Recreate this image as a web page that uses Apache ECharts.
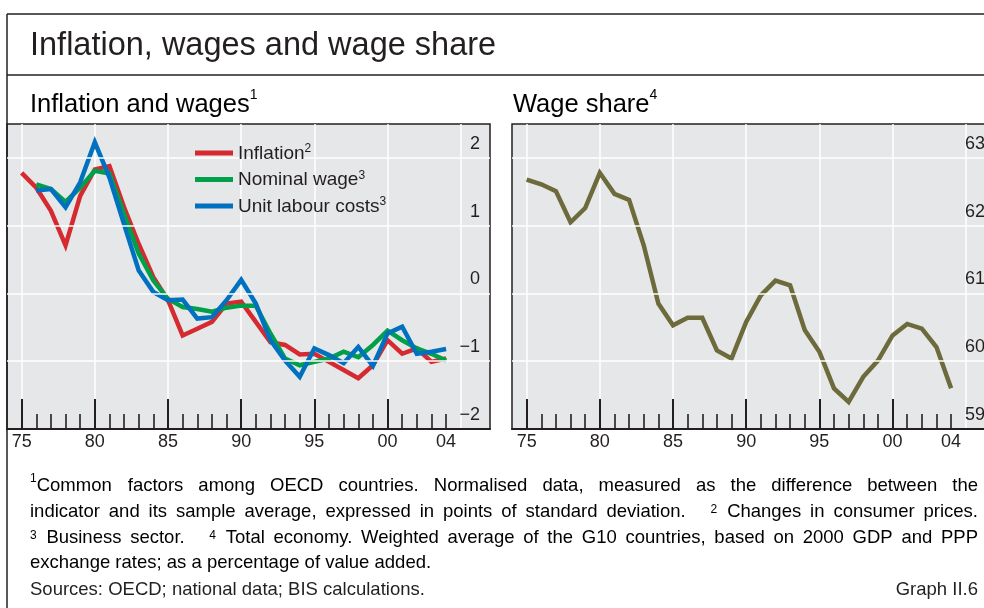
<!DOCTYPE html>
<html>
<head>
<meta charset="utf-8">
<title>Inflation, wages and wage share</title>
<script src="https://cdn.jsdelivr.net/npm/echarts@6/dist/echarts.min.js"></script>
<style>
  html, body { margin: 0; padding: 0; background: #fff; }
  #chart { width: 984px; height: 608px; }
</style>
</head>
<body>
<div id="chart"></div>
<script>
const years = [1975, 1976, 1977, 1978, 1979, 1980, 1981, 1982, 1983, 1984,
  1985, 1986, 1987, 1988, 1989, 1990, 1991, 1992, 1993, 1994,
  1995, 1996, 1997, 1998, 1999, 2000, 2001, 2002, 2003, 2004];

const inflation = [1.78, 1.56, 1.22, 0.71, 1.44, 1.83, 1.88, 1.27, 0.73, 0.24,
  -0.10, -0.62, -0.52, -0.42, -0.15, -0.12, -0.42, -0.72, -0.76, -0.90,
  -0.89, -1.01, -1.13, -1.25, -1.06, -0.69, -0.89, -0.81, -1.01, -0.96];
const nominalWage = [null, 1.61, 1.54, 1.35, 1.56, 1.81, 1.77, 1.17, 0.59, 0.19,
  -0.08, -0.20, -0.23, -0.27, -0.21, -0.18, -0.18, -0.59, -0.96, -1.06,
  -1.01, -0.96, -0.86, -0.94, -0.76, -0.55, -0.69, -0.81, -0.89, -0.99];
const unitLabourCosts = [null, 1.52, 1.54, 1.27, 1.64, 2.23, 1.71, 1.02, 0.34, 0.02,
  -0.10, -0.09, -0.37, -0.35, -0.10, 0.20, -0.15, -0.69, -0.99, -1.23,
  -0.81, -0.91, -1.03, -0.79, -1.07, -0.59, -0.49, -0.89, -0.86, -0.82];
const wageShare = [62.68, 62.61, 62.51, 62.05, 62.26, 62.78, 62.47, 62.38, 61.71, 60.85,
  60.53, 60.64, 60.64, 60.16, 60.04, 60.58, 60.97, 61.19, 61.12, 60.46,
  60.14, 59.60, 59.40, 59.77, 60.01, 60.38, 60.55, 60.48, 60.21, 59.60];

// axis ticks and labels
const xLabelYears = [1975, 1980, 1985, 1990, 1995, 2000, 2004];
const majorTickYears = [1975, 1980, 1985, 1990, 1995, 2000];
const minorTickYears = [1976, 1977, 1978, 1979, 1981, 1982, 1983, 1984, 1986, 1987,
  1988, 1989, 1991, 1992, 1993, 1994, 1996, 1997, 1998, 1999, 2001, 2002, 2003, 2004];
const gridLineYears = [1975, 1980, 1985, 1990, 1995, 2000, 2005];

const legendSup = { 'Inflation': '2', 'Nominal wage': '3', 'Unit labour costs': '3' };

const footnoteLines = [
  '^1Common factors among OECD countries. Normalised data, measured as the difference between the',
  'indicator and its sample average, expressed in points of standard deviation. || ^2 Changes in consumer prices.',
  '^3 Business sector. || ^4 Total economy. Weighted average of the G10 countries, based on 2000 GDP and PPP',
  'exchange rates; as a percentage of value added.'
];

const FONT = '"Liberation Sans", Arial, sans-serif';
const INK = '#231f20';
const PLOT_BG = '#e6e7e8';
const RED = '#d52b30';
const GREEN = '#00a04b';
const BLUE = '#0071bf';
const OLIVE = '#6d6a3b';
const FN_SIZE = 18.5;

function pairs(vals) {
  const out = [];
  years.forEach(function (y, i) {
    if (vals[i] != null) out.push([y, vals[i]]);
  });
  return out;
}

function signed(v) {
  return v < 0 ? '\u2212' + Math.abs(v) : String(v);
}

const measureCtx = document.createElement('canvas').getContext('2d');
function textWidth(str, size) {
  measureCtx.font = size + 'px ' + FONT;
  return measureCtx.measureText(str).width;
}

const noteRich = {
  n: { fontSize: FN_SIZE, fontFamily: FONT, color: INK, lineHeight: 22, verticalAlign: 'bottom' },
  s: { fontSize: 12, fontFamily: FONT, color: INK, lineHeight: 12, verticalAlign: 'top' }
};

// one text element per word so lines can be justified like the printed page
function footnoteElements(line, y, justify) {
  const words = [];
  let extra = 0;
  line.split(' ').forEach(function (tok) {
    if (tok === '||') { extra += 16; return; }
    const m = tok.match(/^\^(\d)(.*)$/);
    let w;
    if (m) {
      w = { text: '{s|' + m[1] + '}' + (m[2] ? '{n|' + m[2] + '}' : ''),
            width: textWidth(m[1], 12) + 1 + (m[2] ? textWidth(m[2], FN_SIZE) : 0) };
    } else {
      w = { text: '{n|' + tok + '}', width: textWidth(tok, FN_SIZE) };
    }
    w.extra = extra;
    extra = 0;
    words.push(w);
  });
  let total = 0;
  words.forEach(function (w) { total += w.width + w.extra; });
  const gap = justify ? (948 - total) / (words.length - 1) : textWidth(' ', FN_SIZE);
  let x = 30;
  return words.map(function (w, i) {
    if (i > 0) x += gap + w.extra;
    const el = {
      type: 'text', x: x, y: y, silent: true,
      style: { text: w.text, rich: noteRich, verticalAlign: 'middle', textVerticalAlign: 'middle' }
    };
    x += w.width;
    return el;
  });
}

function plainText(str, x, y, size, align) {
  return {
    type: 'text', x: x, y: y, silent: true,
    style: {
      text: str, fontSize: size, fontFamily: FONT, fill: INK,
      align: align || 'left', textAlign: align || 'left',
      verticalAlign: 'middle', textVerticalAlign: 'middle'
    }
  };
}

function supText(main, sup, x, y, size) {
  return {
    type: 'text', x: x, y: y, silent: true,
    style: {
      text: '{n|' + main + '}{s|' + sup + '}',
      verticalAlign: 'middle', textVerticalAlign: 'middle',
      rich: {
        n: { fontSize: size, fontFamily: FONT, color: INK, lineHeight: size + 4, verticalAlign: 'bottom' },
        s: { fontSize: 14, fontFamily: FONT, color: INK, lineHeight: 14, verticalAlign: 'top' }
      }
    }
  };
}

function frameLine(x1, y1, x2, y2) {
  return { type: 'line', silent: true, shape: { x1: x1, y1: y1, x2: x2, y2: y2 },
           style: { stroke: INK, lineWidth: 1.5 } };
}

// the right panel runs past the page edge, so don't let v6 pull it back in
const plotBox = { top: 124, width: 483, height: 305, outerBoundsMode: 'none', containLabel: false };

function mainXAxis(gridIndex) {
  return {
    type: 'value', gridIndex: gridIndex, min: 1974, max: 2007, z: 3,
    axisLine: { show: true, onZero: false, lineStyle: { color: INK, width: 2 } },
    axisTick: { show: true, inside: true, length: 30, customValues: majorTickYears,
                lineStyle: { color: INK, width: 2 } },
    axisLabel: { customValues: xLabelYears, formatter: function (v) { return String(v).slice(2); },
                 color: INK, fontSize: 18, fontFamily: FONT, margin: 4 },
    splitLine: { show: false }
  };
}

function minorXAxis(gridIndex) {
  return {
    type: 'value', gridIndex: gridIndex, min: 1974, max: 2007, z: 3,
    axisLine: { show: false, onZero: false },
    axisTick: { show: true, inside: true, length: 15, customValues: minorTickYears,
                lineStyle: { color: INK, width: 1.6 } },
    axisLabel: { show: false },
    splitLine: { show: false }
  };
}

function mainYAxis(gridIndex, min, max) {
  return {
    type: 'value', gridIndex: gridIndex, position: 'right', min: min, max: max, interval: 1, z: 3,
    axisLine: { show: false }, axisTick: { show: false },
    // labels sit just above their grid line, as in the print
    axisLabel: { inside: true, margin: 10, showMaxLabel: false, formatter: signed,
                 color: INK, fontSize: 18, fontFamily: FONT, verticalAlign: 'bottom', lineHeight: 28 },
    splitLine: { show: true, showMinLine: false, showMaxLine: false,
                 lineStyle: { color: '#ffffff', width: 1.5 } }
  };
}

function hiddenYAxis(gridIndex, min, max) {
  return { type: 'value', gridIndex: gridIndex, min: min, max: max, show: false };
}

const verticalGrid = {
  silent: true, symbol: 'none', z: 1, animation: false,
  label: { show: false },
  lineStyle: { color: '#ffffff', width: 1.5, type: 'solid' },
  data: gridLineYears.map(function (y) { return { xAxis: y }; })
};

function lineSeries(name, vals, color, xi, yi, extra) {
  return Object.assign({
    name: name, type: 'line', xAxisIndex: xi, yAxisIndex: yi,
    data: pairs(vals), symbol: 'none', showSymbol: false, z: 2,
    lineStyle: { width: 4.5, color: color, join: 'miter' },
    itemStyle: { color: color }
  }, extra || {});
}

const chart = echarts.init(document.getElementById('chart'), null, { renderer: 'canvas' });

const graphics = [
  frameLine(7, 14, 984, 14),
  frameLine(7, 75, 984, 75),
  frameLine(7, 14, 7, 608),
  plainText('Inflation, wages and wage share', 30, 46, 32.5),
  supText('Inflation and wages', '1', 30, 103, 25.5),
  supText('Wage share', '4', 513, 103, 25.5),
  plainText('Sources: OECD; national data; BIS calculations.', 30, 590, FN_SIZE),
  plainText('Graph II.6', 978, 590, FN_SIZE, 'right')
];
const noteY = [484, 510, 536, 561];
footnoteLines.forEach(function (line, i) {
  footnoteElements(line, noteY[i], i < 3).forEach(function (el) { graphics.push(el); });
});

chart.setOption({
  animation: false,
  backgroundColor: '#ffffff',
  textStyle: { fontFamily: FONT },
  grid: [
    Object.assign({ left: 7, show: true, backgroundColor: PLOT_BG, borderColor: INK, borderWidth: 1.5 }, plotBox),
    Object.assign({ left: 512, show: true, backgroundColor: PLOT_BG, borderColor: INK, borderWidth: 1.5 }, plotBox),
    Object.assign({ left: 7 }, plotBox),
    Object.assign({ left: 512 }, plotBox)
  ],
  xAxis: [mainXAxis(0), mainXAxis(1), minorXAxis(2), minorXAxis(3)],
  yAxis: [mainYAxis(0, -2, 2.5), mainYAxis(1, 59, 63.5), hiddenYAxis(2, -2, 2.5), hiddenYAxis(3, 59, 63.5)],
  legend: {
    data: ['Inflation', 'Nominal wage', 'Unit labour costs'],
    orient: 'vertical', left: 195, top: 143, padding: 0,
    icon: 'rect', itemWidth: 38, itemHeight: 5, itemGap: 6.5,
    selectedMode: false,
    formatter: function (name) { return '{n|' + name + '}{s|' + legendSup[name] + '}'; },
    textStyle: {
      color: INK, fontFamily: FONT, fontSize: 19, lineHeight: 20,
      rich: {
        n: { fontSize: 19, fontFamily: FONT, color: INK, lineHeight: 20, verticalAlign: 'bottom' },
        s: { fontSize: 12, fontFamily: FONT, color: INK, lineHeight: 12, verticalAlign: 'top' }
      }
    }
  },
  series: [
    lineSeries('Inflation', inflation, RED, 0, 0, { markLine: verticalGrid }),
    lineSeries('Nominal wage', nominalWage, GREEN, 0, 0),
    lineSeries('Unit labour costs', unitLabourCosts, BLUE, 0, 0),
    lineSeries('Wage share', wageShare, OLIVE, 1, 1, { markLine: verticalGrid }),
    { type: 'line', xAxisIndex: 2, yAxisIndex: 2, data: [] },
    { type: 'line', xAxisIndex: 3, yAxisIndex: 3, data: [] }
  ],
  graphic: graphics
});
</script>
</body>
</html>
